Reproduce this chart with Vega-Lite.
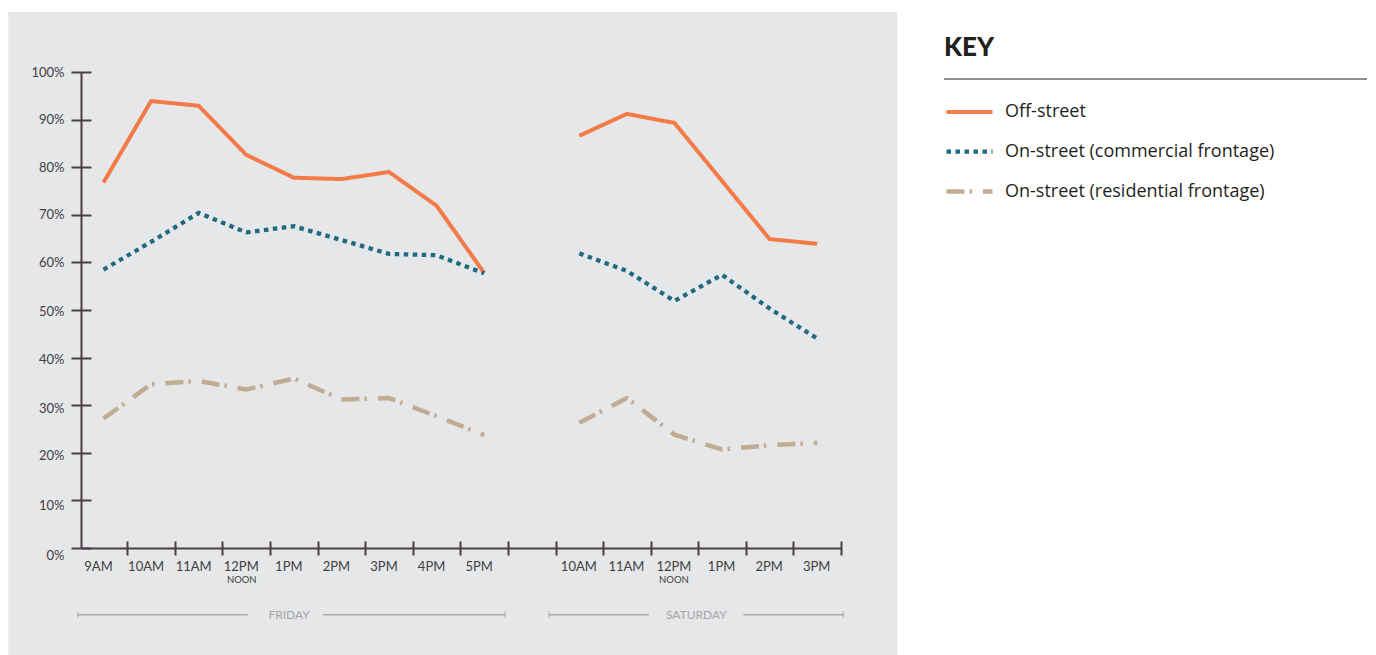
{
  "$schema": "https://vega.github.io/schema/vega-lite/v6.json",
  "width": 760,
  "height": 476,
  "autosize": {"type": "none"},
  "padding": {"left": 81, "top": 72, "right": 535, "bottom": 107},
  "background": "white",
  "config": {"view": {"stroke": null}, "font": "Lato", "axis": {"labelFont": "Lato"}},
  "datasets": {
    "occupancy": [
      {"series": "Off-street", "day": "Friday", "slot": 0, "time": "9AM", "pct": 76.8},
      {"series": "Off-street", "day": "Friday", "slot": 1, "time": "10AM", "pct": 93.9},
      {"series": "Off-street", "day": "Friday", "slot": 2, "time": "11AM", "pct": 92.9},
      {"series": "Off-street", "day": "Friday", "slot": 3, "time": "12PM", "pct": 82.6},
      {"series": "Off-street", "day": "Friday", "slot": 4, "time": "1PM", "pct": 77.8},
      {"series": "Off-street", "day": "Friday", "slot": 5, "time": "2PM", "pct": 77.5},
      {"series": "Off-street", "day": "Friday", "slot": 6, "time": "3PM", "pct": 79.0},
      {"series": "Off-street", "day": "Friday", "slot": 7, "time": "4PM", "pct": 71.9},
      {"series": "Off-street", "day": "Friday", "slot": 8, "time": "5PM", "pct": 57.8},
      {"series": "Off-street", "day": "Saturday", "slot": 10, "time": "10AM", "pct": 86.6},
      {"series": "Off-street", "day": "Saturday", "slot": 11, "time": "11AM", "pct": 91.2},
      {"series": "Off-street", "day": "Saturday", "slot": 12, "time": "12PM", "pct": 89.3},
      {"series": "Off-street", "day": "Saturday", "slot": 13, "time": "1PM", "pct": 77.1},
      {"series": "Off-street", "day": "Saturday", "slot": 14, "time": "2PM", "pct": 64.9},
      {"series": "Off-street", "day": "Saturday", "slot": 15, "time": "3PM", "pct": 63.9},
      {"series": "On-street (commercial frontage)", "day": "Friday", "slot": 0, "time": "9AM", "pct": 58.5},
      {"series": "On-street (commercial frontage)", "day": "Friday", "slot": 1, "time": "10AM", "pct": 64.3},
      {"series": "On-street (commercial frontage)", "day": "Friday", "slot": 2, "time": "11AM", "pct": 70.4},
      {"series": "On-street (commercial frontage)", "day": "Friday", "slot": 3, "time": "12PM", "pct": 66.3},
      {"series": "On-street (commercial frontage)", "day": "Friday", "slot": 4, "time": "1PM", "pct": 67.6},
      {"series": "On-street (commercial frontage)", "day": "Friday", "slot": 5, "time": "2PM", "pct": 64.7},
      {"series": "On-street (commercial frontage)", "day": "Friday", "slot": 6, "time": "3PM", "pct": 61.8},
      {"series": "On-street (commercial frontage)", "day": "Friday", "slot": 7, "time": "4PM", "pct": 61.5},
      {"series": "On-street (commercial frontage)", "day": "Friday", "slot": 8, "time": "5PM", "pct": 57.7},
      {"series": "On-street (commercial frontage)", "day": "Saturday", "slot": 10, "time": "10AM", "pct": 61.9},
      {"series": "On-street (commercial frontage)", "day": "Saturday", "slot": 11, "time": "11AM", "pct": 58.2},
      {"series": "On-street (commercial frontage)", "day": "Saturday", "slot": 12, "time": "12PM", "pct": 51.9},
      {"series": "On-street (commercial frontage)", "day": "Saturday", "slot": 13, "time": "1PM", "pct": 57.4},
      {"series": "On-street (commercial frontage)", "day": "Saturday", "slot": 14, "time": "2PM", "pct": 50.3},
      {"series": "On-street (commercial frontage)", "day": "Saturday", "slot": 15, "time": "3PM", "pct": 44.0},
      {"series": "On-street (residential frontage)", "day": "Friday", "slot": 0, "time": "9AM", "pct": 27.2},
      {"series": "On-street (residential frontage)", "day": "Friday", "slot": 1, "time": "10AM", "pct": 34.4},
      {"series": "On-street (residential frontage)", "day": "Friday", "slot": 2, "time": "11AM", "pct": 35.1},
      {"series": "On-street (residential frontage)", "day": "Friday", "slot": 3, "time": "12PM", "pct": 33.3},
      {"series": "On-street (residential frontage)", "day": "Friday", "slot": 4, "time": "1PM", "pct": 35.6},
      {"series": "On-street (residential frontage)", "day": "Friday", "slot": 5, "time": "2PM", "pct": 31.2},
      {"series": "On-street (residential frontage)", "day": "Friday", "slot": 6, "time": "3PM", "pct": 31.5},
      {"series": "On-street (residential frontage)", "day": "Friday", "slot": 7, "time": "4PM", "pct": 27.7},
      {"series": "On-street (residential frontage)", "day": "Friday", "slot": 8, "time": "5PM", "pct": 23.7},
      {"series": "On-street (residential frontage)", "day": "Saturday", "slot": 10, "time": "10AM", "pct": 26.3},
      {"series": "On-street (residential frontage)", "day": "Saturday", "slot": 11, "time": "11AM", "pct": 31.5},
      {"series": "On-street (residential frontage)", "day": "Saturday", "slot": 12, "time": "12PM", "pct": 23.8},
      {"series": "On-street (residential frontage)", "day": "Saturday", "slot": 13, "time": "1PM", "pct": 20.7},
      {"series": "On-street (residential frontage)", "day": "Saturday", "slot": 14, "time": "2PM", "pct": 21.6},
      {"series": "On-street (residential frontage)", "day": "Saturday", "slot": 15, "time": "3PM", "pct": 22.1}
    ],
    "days": [
      {"day": "FRIDAY", "start": -0.54, "end": 8.44, "mid": 3.9},
      {"day": "SATURDAY", "start": 9.36, "end": 15.55, "mid": 12.46}
    ],
    "segments": [
      {"day": "FRIDAY", "from": -0.54, "to": 3.03},
      {"day": "FRIDAY", "from": 4.62, "to": 8.44},
      {"day": "SATURDAY", "from": 9.36, "to": 11.46},
      {"day": "SATURDAY", "from": 13.45, "to": 15.55}
    ]
  },
  "resolve": {"axis": {"x": "independent", "y": "independent"}},
  "layer": [
    {
      "data": {"values": [{}]},
      "mark": {"type": "rect", "color": "#E6E7E8"},
      "encoding": {
        "x": {"datum": -2.0, "type": "quantitative", "scale": {"domain": [-0.473, 15.5], "nice": false, "zero": false}, "axis": null},
        "x2": {"datum": 16.68},
        "y": {"datum": -23, "type": "quantitative", "scale": {"domain": [0, 100], "nice": false, "zero": false}, "axis": null},
        "y2": {"datum": 112.6}
      }
    },
    {
      "data": {"name": "occupancy"},
      "mark": {"type": "line", "strokeCap": "butt", "strokeJoin": "miter"},
      "encoding": {
        "x": {
          "field": "slot", "type": "quantitative",
          "axis": {
            "orient": "bottom", "title": null, "grid": false, "zindex": 1,
            "values": [0, 1, 2, 3, 4, 5, 6, 7, 8, 10, 11, 12, 13, 14, 15],
            "labelExpr": "['9AM','10AM','11AM','12PM','1PM','2PM','3PM','4PM','5PM','','10AM','11AM','12PM','1PM','2PM','3PM'][datum.value]",
            "domain": true, "domainColor": "#4B3F47", "domainWidth": 2,
            "ticks": false, "tickSize": 0,
            "labelPadding": 12, "labelFontSize": 13, "labelColor": "#414042",
            "labelFlush": false, "labelOverlap": false,
            "labelOffset": {"condition": {"test": "datum.value > 9", "value": -1}, "value": -5.5}
          }
        },
        "y": {
          "field": "pct", "type": "quantitative",
          "axis": {
            "orient": "left", "title": null, "grid": false, "zindex": 1,
            "values": [0, 10, 20, 30, 40, 50, 60, 70, 80, 90, 100],
            "labelExpr": "datum.value + '%'",
            "domain": true, "domainColor": "#4B3F47", "domainWidth": 2,
            "ticks": true, "tickSize": 10, "tickWidth": 2, "tickColor": "#4B3F47",
            "labelPadding": 7, "labelFontSize": 13, "labelColor": "#414042",
            "labelFlush": false, "labelOverlap": false,
            "labelOffset": {"condition": [
              {"test": "datum.value <= 0", "value": 7},
              {"test": "datum.value <= 10", "value": 5},
              {"test": "datum.value <= 30", "value": 3},
              {"test": "datum.value <= 40", "value": 2},
              {"test": "datum.value <= 50", "value": 1}
            ], "value": 0}
          }
        },
        "color": {
          "field": "series", "type": "nominal",
          "scale": {
            "domain": ["Off-street", "On-street (commercial frontage)", "On-street (residential frontage)"],
            "range": ["#F47A48", "#1F6982", "#C2AC91"]
          },
          "legend": {
            "orient": "none", "legendX": 863, "legendY": -37,
            "title": "KEY", "titleFont": "Lato", "titleFontSize": 26, "titleFontWeight": 900,
            "titleColor": "#231F20", "titlePadding": 26, "titleAnchor": "start",
            "symbolType": "stroke", "symbolSize": 2116, "symbolStrokeWidth": 7,
            "labelFont": "Open Sans", "labelFontSize": 18, "labelColor": "#231F20",
            "labelOffset": 10, "rowPadding": 5, "padding": 0, "labelLimit": 400
          }
        },
        "strokeDash": {
          "field": "series", "type": "nominal",
          "scale": {
            "domain": ["Off-street", "On-street (commercial frontage)", "On-street (residential frontage)"],
            "range": [[1, 0], [4.5, 4.5], [18, 5, 2.5, 11]]
          }
        },
        "strokeWidth": {
          "field": "series", "type": "ordinal",
          "scale": {
            "domain": ["Off-street", "On-street (commercial frontage)", "On-street (residential frontage)"],
            "range": [4, 4.5, 6]
          },
          "legend": null
        },
        "detail": {"field": "day"}
      }
    },
    {
      "data": {"name": "segments"},
      "mark": {"type": "rule", "color": "#A7A9AC", "strokeWidth": 1.5},
      "encoding": {
        "x": {
          "field": "from", "type": "quantitative",
          "axis": {
            "orient": "bottom", "offset": -7, "title": null, "grid": false, "zindex": 1,
            "values": [0.5, 1.5, 2.5, 3.5, 4.5, 5.5, 6.5, 7.5, 8.5, 9.5, 10.5, 11.5, 12.5, 13.5, 14.5, 15.5],
            "domain": false, "labels": false,
            "ticks": true, "tickSize": 14, "tickWidth": 2, "tickColor": "#4B3F47"
          }
        },
        "x2": {"field": "to"},
        "y": {
          "datum": -14, "type": "quantitative",
          "axis": {
            "orient": "left", "offset": -10, "title": null, "grid": false, "zindex": 1,
            "values": [0, 10, 20, 30, 40, 50, 60, 70, 80, 90, 100],
            "domain": false, "labels": false,
            "ticks": true, "tickSize": 10, "tickWidth": 2, "tickColor": "#4B3F47"
          }
        }
      }
    },
    {
      "data": {"name": "days"},
      "mark": {"type": "text", "font": "Lato", "fontSize": 12, "color": "#A7A4A8", "baseline": "middle", "align": "center"},
      "encoding": {
        "x": {
          "field": "mid", "type": "quantitative",
          "axis": {
            "orient": "bottom", "title": null, "grid": false, "zindex": 1,
            "values": [3, 12], "labelExpr": "'NOON'",
            "domain": false, "ticks": false, "tickSize": 0,
            "labelPadding": 26, "labelFontSize": 9.5, "labelColor": "#414042",
            "labelFlush": false, "labelOverlap": false,
            "labelOffset": {"condition": {"test": "datum.value > 9", "value": -1}, "value": -5}
          }
        },
        "y": {"datum": -14, "type": "quantitative", "axis": null},
        "text": {"field": "day"}
      }
    },
    {
      "data": {"name": "days"},
      "transform": [{"fold": ["start", "end"], "as": ["edge", "pos"]}],
      "mark": {"type": "tick", "orient": "vertical", "color": "#A7A9AC", "size": 6, "thickness": 1.5},
      "encoding": {
        "x": {"field": "pos", "type": "quantitative", "axis": null},
        "y": {"datum": -14, "type": "quantitative", "axis": null}
      }
    },
    {
      "data": {"values": [{}]},
      "mark": {"type": "rule", "color": "#231F20", "strokeWidth": 1.2},
      "encoding": {
        "x": {"datum": 17.665, "type": "quantitative", "axis": null},
        "x2": {"datum": 26.555},
        "y": {"datum": 98.53, "type": "quantitative", "axis": null}
      }
    }
  ]
}
